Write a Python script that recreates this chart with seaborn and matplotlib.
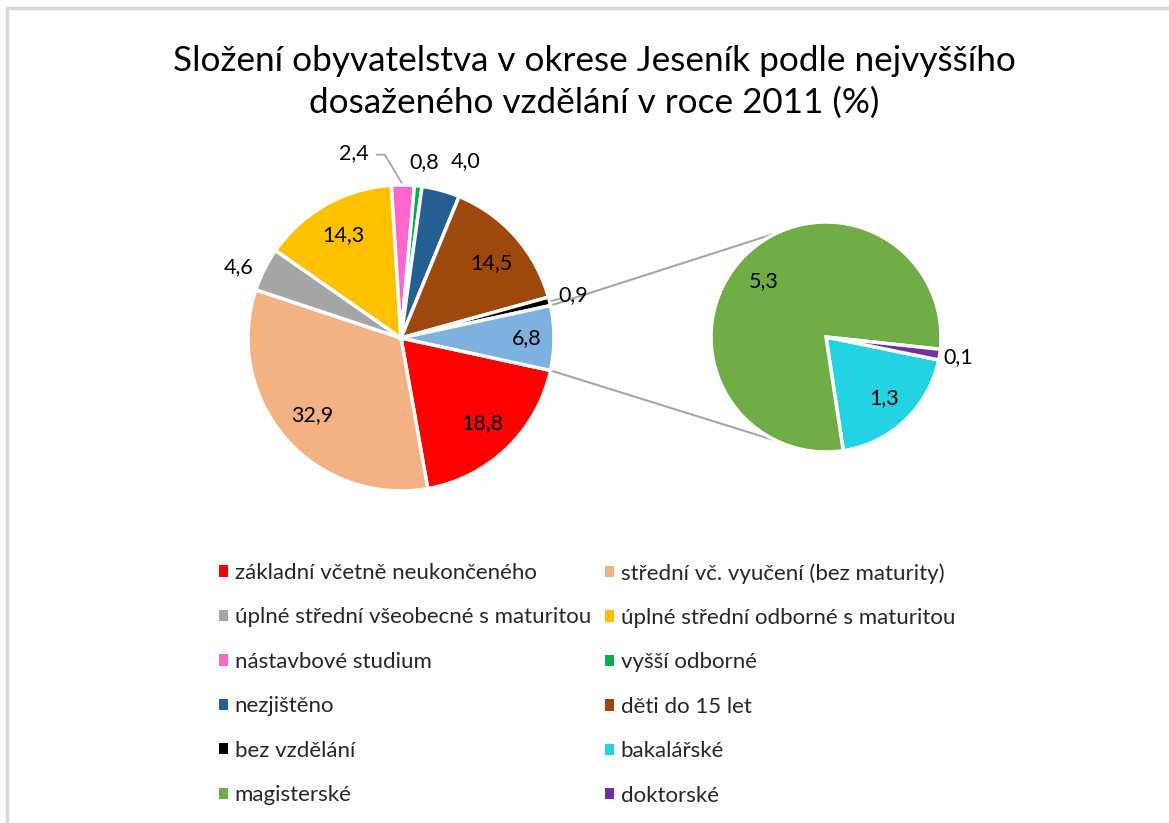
import numpy as np
import matplotlib
matplotlib.use("Agg")
import matplotlib.pyplot as plt
import seaborn as sns
from matplotlib.patches import Patch, Rectangle

sns.set_theme(style="white")
plt.rcParams['font.family'] = ['Lato', 'DejaVu Sans']

# --- data ---
main_labels = ["základní včetně neukončeného", "střední vč. vyučení (bez maturity)",
               "úplné střední všeobecné s maturitou", "úplné střední odborné s maturitou",
               "nástavbové studium", "vyšší odborné", "nezjištěno", "děti do 15 let",
               "bez vzdělání"]
main_values = [18.8, 32.9, 4.6, 14.3, 2.4, 0.8, 4.0, 14.5, 0.9]
other_value = 6.8

sec_labels = ["bakalářské", "magisterské", "doktorské"]
sec_values = [1.3, 5.3, 0.1]

legend_order = ["základní včetně neukončeného", "střední vč. vyučení (bez maturity)",
                "úplné střední všeobecné s maturitou", "úplné střední odborné s maturitou",
                "nástavbové studium", "vyšší odborné", "nezjištěno", "děti do 15 let",
                "bez vzdělání", "bakalářské", "magisterské", "doktorské"]

colors = {
    "základní včetně neukončeného": "#FF0000",
    "střední vč. vyučení (bez maturity)": "#F4B183",
    "úplné střední všeobecné s maturitou": "#A5A5A5",
    "úplné střední odborné s maturitou": "#FFC000",
    "nástavbové studium": "#FF66CC",
    "vyšší odborné": "#00B050",
    "nezjištěno": "#255E91",
    "děti do 15 let": "#9E480E",
    "bez vzdělání": "#000000",
    "bakalářské": "#23D3E3",
    "magisterské": "#70AD47",
    "doktorské": "#7030A0",
}
other_color = "#7FB1DF"

# label placement: (radial factor, angle shift in degrees)
main_lbl_pos = {0: (0.77, 0), 1: (0.77, 0), 2: (1.16, 3), 3: (0.77, 0), 4: (1.25, 15),
                5: (1.16, -1), 6: (1.23, -5), 7: (0.77, -2), 8: (1.16, 0), 9: (0.82, 0)}
sec_lbl_pos = {0: (0.73, 0), 1: (0.73, 2), 2: (1.16, 0)}

W, H = 1169, 823
fig = plt.figure(figsize=(W / 100, H / 100), dpi=100)
ax = fig.add_axes([0, 0, 1, 1])


def Y(y):
    return H - y


c1 = (401, Y(338))
r1 = 153
c2 = (826, Y(337))
r2 = 115

vals1 = main_values + [other_value]
cols1 = sns.color_palette([colors[k] for k in main_labels] + [other_color])
start1 = -other_value / sum(vals1) * 180
w1, _ = ax.pie(vals1, colors=cols1, radius=r1, center=c1, startangle=start1,
               counterclock=False, wedgeprops=dict(edgecolor="white", linewidth=2.5))

cols2 = sns.color_palette([colors[k] for k in sec_labels])
w2, _ = ax.pie(sec_values, colors=cols2, radius=r2, center=c2, startangle=-11.5,
               counterclock=False, wedgeprops=dict(edgecolor="white", linewidth=2.5))


def fmt(v):
    return f"{v:.1f}".replace(".", ",")


def polar(c, r, ang):
    a = np.deg2rad(ang)
    return c[0] + r * np.cos(a), c[1] + r * np.sin(a)


for i, (w, v) in enumerate(zip(w1, vals1)):
    mid = (w.theta1 + w.theta2) / 2
    f, d = main_lbl_pos[i]
    x, y = polar(c1, r1 * f, mid + d)
    ax.text(x, y, fmt(v), ha="center", va="center", fontsize=15.5, color="black")
    if i == 4:
        ex, ey = polar(c1, r1, mid)
        ax.plot([x + 23, x + 31, ex], [y - 2, y - 2, ey], color="#A6A6A6", lw=1.3, zorder=0)
    if i == 8:
        sx, sy = polar(c1, r1 * 1.01, mid)
        ex, ey = polar(c1, r1 * 1.08, mid)
        ax.plot([sx, ex], [sy, ey], color="#A6A6A6", lw=1.3)

for i, (w, v) in enumerate(zip(w2, sec_values)):
    mid = (w.theta1 + w.theta2) / 2
    f, d = sec_lbl_pos[i]
    x, y = polar(c2, r2 * f, mid + d)
    ax.text(x, y, fmt(v), ha="center", va="center", fontsize=15.5, color="black")

# connector lines between "other" slice and secondary pie
ow = w1[-1]
for a_main, a_sec in [(ow.theta1, -115), (ow.theta2, 115)]:
    p = polar(c1, r1, a_main)
    q = polar(c2, r2, a_sec)
    ax.plot([p[0], q[0]], [p[1], q[1]], color="#A6A6A6", lw=1.5, zorder=0)

ax.set_xlim(0, W)
ax.set_ylim(0, H)
ax.set_aspect("equal")
ax.axis("off")

# chart frame
ax.add_patch(Rectangle((7, Y(8) - 900), 1200, 900, fill=False, edgecolor="#D9D9D9", lw=2.5))

fig.text(594 / W, 1 - 82 / H, "Složení obyvatelstva v okrese Jeseník podle nejvyššího\n"
         "dosaženého vzdělání v roce 2011 (%)", ha="center", va="center",
         fontsize=25.3, linespacing=1.38, color="#000000")

handles = [Patch(facecolor=colors[k], edgecolor="none") for k in legend_order]
for col, x0 in [(0, 219), (1, 605)]:
    hs = handles[col::2]
    ls = legend_order[col::2]
    leg = fig.legend(hs, ls, loc="upper left", bbox_to_anchor=(x0 / W, 1 - 563 / H),
                     frameon=False, fontsize=16, handlelength=0.4, handleheight=0.4,
                     handletextpad=0.3, labelspacing=1.1, borderaxespad=0, borderpad=0)

fig.savefig("out.png", dpi=100)
